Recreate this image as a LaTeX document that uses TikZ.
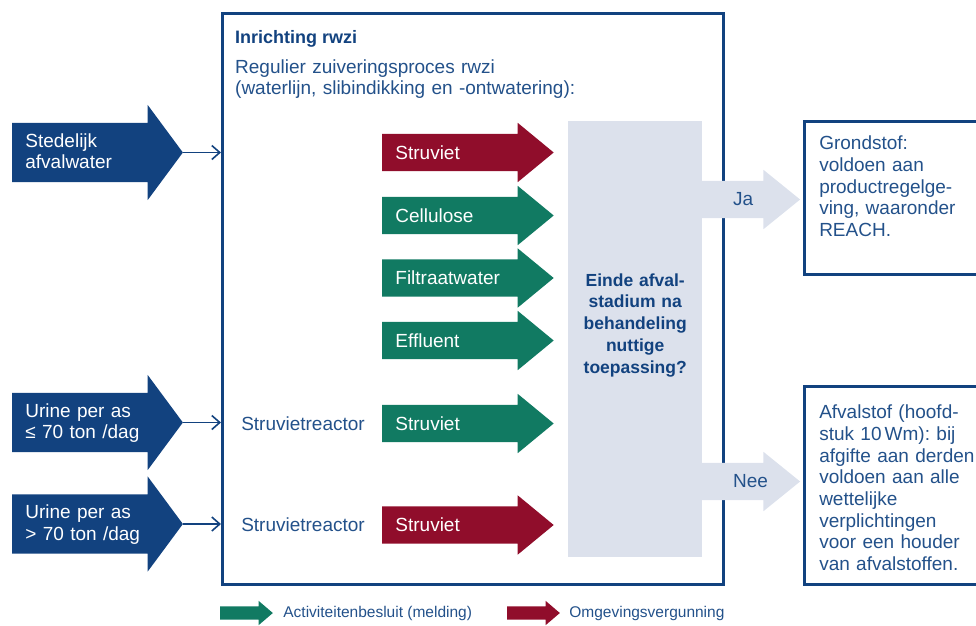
\documentclass[tikz,border=0pt]{standalone}
\usepackage{fontspec}
\setmainfont{Liberation Sans}
\frenchspacing
\usetikzlibrary{shapes.arrows,positioning,arrows.meta}
\definecolor{rijksblauw}{HTML}{12427F}
\definecolor{tekstblauw}{HTML}{23518A}
\definecolor{lichtgrijs}{HTML}{DCE1EC}
\definecolor{vergunrood}{HTML}{900D2B}
\definecolor{meldgroen}{HTML}{117A62}
\tikzset{gewoon/.style={font=\fontsize{19}{21.7}\selectfont},
kop/.style={font=\bfseries\fontsize{18}{21}\selectfont, text=rijksblauw, inner sep=0pt},
uitleg/.style={gewoon, text=tekstblauw, inner sep=0pt},
pijl/.style={single arrow, draw=none, inner sep=0pt},
invoer/.style={pijl, fill=rijksblauw, text=white, gewoon, text width=122.3pt, align=left,
  inner xsep=13pt, text height=24pt, text depth=35pt,
  single arrow head extend=18pt, single arrow tip angle=107},
stroom/.style={pijl, text=white, gewoon, text width=122.4pt, align=left,
  inner xsep=13pt, text height=25.3pt, text depth=11.7pt,
  single arrow head extend=11pt, single arrow tip angle=79},
groen/.style={stroom, fill=meldgroen},
rood/.style={stroom, fill=vergunrood},
janee/.style={pijl, fill=lichtgrijs, inner xsep=38.2pt, inner ysep=18.5pt,
  single arrow head extend=11pt, single arrow tip angle=78},
legenda/.style={pijl, inner xsep=22.2pt, inner ysep=6.5pt,
  single arrow head extend=5.5pt, single arrow tip angle=81},
legtekst/.style={font=\fontsize{15.5}{18}\selectfont, text=tekstblauw, inner sep=0pt},
kader/.style={draw=rijksblauw, line width=2.5pt, minimum width=501pt, minimum height=571pt},
vraag/.style={fill=lichtgrijs, text=rijksblauw, font=\bfseries\fontsize{17.5}{21.7}\selectfont,
  text width=130pt, align=center, inner xsep=2pt, inner ysep=0pt},
stofbox/.style={draw=rijksblauw, line width=2.5pt, text=tekstblauw, gewoon,
  text width=165pt, align=left, inner xsep=15pt, inner ysep=0pt},
verbinding/.style={draw=rijksblauw, line width=1.6pt, ->}
}

\begin{document}
\begin{tikzpicture}[x=1pt, y=-1pt, >={Straight Barb[length=8pt,width=14pt]}]
  \useasboundingbox (0,0) rectangle (976,625);
  \clip (0,0) rectangle (976,625);

  % inrichting rwzi
  \node[kader, anchor=north west] (rwzi) at (221,12) {};
  \node[kop, anchor=base west] (titel) at (235,43) {Inrichting rwzi};
  \node[uitleg, text width=400pt, align=left, anchor=base west,
    font=\fontsize{19}{21}\selectfont] (proces) at (235,73)
    {Regulier zuiveringsproces rwzi\\(waterlijn, slibindikking en -ontwatering):};

  % aanvoer
  \node[invoer, anchor=tail] (stedelijk) at (12,152.5) {Stedelijk\\afvalwater};
  \node[invoer, anchor=tail] (urinea) at (12,422.5) {Urine per as\\≤~70~ton~/dag};
  \node[invoer, anchor=tail] (urineb) at (12,524) {Urine per as\\>~70~ton~/dag};

  % stoffen
  \node[rood,  anchor=tail] (struviet1) at (382,152.5) {Struviet};
  \node[groen, anchor=tail] (cellulose) at (382,215.5) {Cellulose};
  \node[groen, anchor=tail] (filtraat)  at (382,278)   {Filtraatwater};
  \node[groen, anchor=tail] (effluent)  at (382,340.5) {Effluent};
  \node[groen, anchor=tail] (struviet2) at (382,423.5) {Struviet};
  \node[rood,  anchor=tail] (struviet3) at (382,525)   {Struviet};
  \node[uitleg, left=17pt of struviet2.tail] (reactora) {Struvietreactor};
  \node[uitleg, left=17pt of struviet3.tail] (reactorb) {Struvietreactor};

  % beslissing
  \node[vraag, text height=165pt, text depth=271pt, anchor=north west] (einde) at (568,121)
    {Einde afval-\\stadium na\\behandeling\\nuttige\\toepassing?};
  \node[janee, anchor=tail] (ja)  at (700,199.5) {};
  \node[janee, anchor=tail] (nee) at (700,481.5) {};
  \node[uitleg, right=33pt of ja.tail]  (jatekst)  {Ja};
  \node[uitleg, right=33pt of nee.tail] (neetekst) {Nee};

  \node[stofbox, text height=28.5pt, text depth=124.5pt, anchor=north west] (grondstof) at (803,120)
    {Grondstof:\\voldoen aan\\productregelge-\\ving, waaronder\\REACH.};
  \node[stofbox, text height=32.5pt, text depth=165.5pt, anchor=north west] (afvalstof) at (803,385)
    {Afvalstof (hoofd-\\stuk 10\,Wm): bij\\afgifte aan derden\\voldoen aan alle\\wettelijke\\verplichtingen\\voor een houder\\van afvalstoffen.};

  % legenda
  \node[legenda, fill=meldgroen, anchor=tail] (melding) at (220,613) {};
  \node[legtekst, right=10pt of melding.tip] (meldingtekst) {Activiteitenbesluit (melding)};
  \node[legenda, fill=vergunrood, anchor=tail] (vergunning) at (507,613) {};
  \node[legtekst, right=9pt of vergunning.tip] (vergunningtekst) {Omgevingsvergunning};

  \draw[verbinding] (stedelijk.tip) -- (stedelijk.tip -| rwzi.west);
  \draw[verbinding] (urinea.tip) -- (urinea.tip -| rwzi.west);
  \draw[verbinding] (urineb.tip) -- (urineb.tip -| rwzi.west);
\end{tikzpicture}
\end{document}
